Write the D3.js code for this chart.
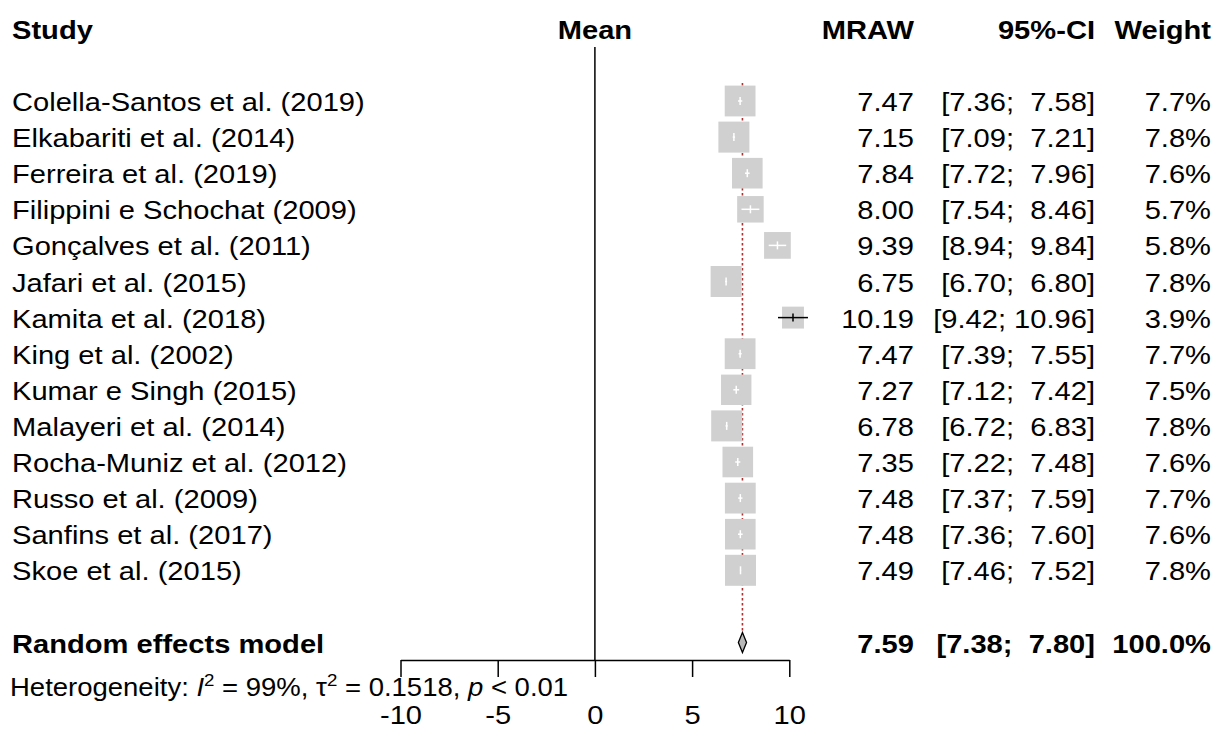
<!DOCTYPE html>
<meta charset="utf-8">
<script src="https://d3js.org/d3.v7.min.js"></script>
<style>
  body { margin: 0; background: #fff; }
  text { font-family: "Liberation Sans", Arial, sans-serif; white-space: pre; }
</style>
<body>
<div id="my_dataviz"></div>
<script>
  // study data
  var studies = ["Colella-Santos et al. (2019)", "Elkabariti et al. (2014)", "Ferreira et al. (2019)",
    "Filippini e Schochat (2009)", "Gonçalves et al. (2011)", "Jafari et al. (2015)", "Kamita et al. (2018)",
    "King et al. (2002)", "Kumar e Singh (2015)", "Malayeri et al. (2014)", "Rocha-Muniz et al. (2012)",
    "Russo et al. (2009)", "Sanfins et al. (2017)", "Skoe et al. (2015)"];
  var means = [7.47, 7.15, 7.84, 8.00, 9.39, 6.75, 10.19, 7.47, 7.27, 6.78, 7.35, 7.48, 7.48, 7.49];
  var lower = [7.36, 7.09, 7.72, 7.54, 8.94, 6.70, 9.42, 7.39, 7.12, 6.72, 7.22, 7.37, 7.36, 7.46];
  var upper = [7.58, 7.21, 7.96, 8.46, 9.84, 6.80, 10.96, 7.55, 7.42, 6.83, 7.48, 7.59, 7.60, 7.52];
  var weights = [7.7, 7.8, 7.6, 5.7, 5.8, 7.8, 3.9, 7.7, 7.5, 7.8, 7.6, 7.7, 7.6, 7.8];

  // random effects model
  var pooledMean = 7.59, pooledLower = 7.38, pooledUpper = 7.80, pooledWeight = 100.0;

  var xTicks = [-10, -5, 0, 5, 10];
  var headers = ["Study", "Mean", "MRAW", "95%-CI", "Weight"];

  var W = 1219, H = 729;
  var FS = 26, SX = 1.12;

  var svg = d3.select("#my_dataviz").append("svg")
    .attr("width", W).attr("height", H);

  var x = d3.scaleLinear().domain([-10, 10]).range([400.5, 789.3]);
  var row = d3.scaleLinear().domain([0, 1]).range([101, 137.1]);
  var side = d3.scaleSqrt().domain([0, 7.8]).range([0, 31]);

  var colMRAW = 914, colCI = 1095, colW = 1211, colStudy = 12;

  // helper for the horizontally stretched text
  function txt(px, py, str, anchor, bold, fs) {
    return svg.append("text")
      .attr("transform", "translate(" + px + "," + py + ") scale(" + SX + ",1)")
      .attr("text-anchor", anchor || "start")
      .style("font-size", (fs || FS) + "px")
      .style("font-weight", bold ? "bold" : "normal")
      .text(str);
  }
  function ciText(lo, up) {
    return "[" + lo.toFixed(2) + ";" + (up >= 10 ? " " : "  ") + up.toFixed(2) + "]";
  }

  // headers
  var hy = 39;
  txt(colStudy, hy, headers[0], "start", true);
  txt(x(0), hy, headers[1], "middle", true);
  txt(colMRAW, hy, headers[2], "end", true);
  txt(colCI, hy, headers[3], "end", true);
  txt(colW, hy, headers[4], "end", true);

  var pooledY = row(15);

  // zero line
  svg.append("line")
    .attr("x1", x(0)).attr("x2", x(0))
    .attr("y1", 47).attr("y2", 660)
    .attr("stroke", "#000").attr("stroke-width", 1.5);

  // dotted pooled line
  svg.append("line")
    .attr("x1", x(pooledMean)).attr("x2", x(pooledMean))
    .attr("y1", row(0) - 18).attr("y2", pooledY - 11)
    .attr("stroke", "#b03030").attr("stroke-width", 1.6)
    .attr("stroke-dasharray", "2.5,2.5");

  // squares
  studies.forEach(function (s, i) {
    var cy = row(i), cx = x(means[i]), sd = side(weights[i]);
    svg.append("rect")
      .attr("x", cx - sd / 2).attr("y", cy - sd / 2)
      .attr("width", sd).attr("height", sd)
      .attr("fill", "#d0d0d0");
    var inside = (x(upper[i]) - x(lower[i])) < sd;
    var col = inside ? "#fff" : "#000";
    svg.append("line")
      .attr("x1", x(lower[i])).attr("x2", x(upper[i]))
      .attr("y1", cy).attr("y2", cy)
      .attr("stroke", col).attr("stroke-width", 1.5);
    svg.append("line")
      .attr("x1", cx).attr("x2", cx)
      .attr("y1", cy - 4).attr("y2", cy + 4)
      .attr("stroke", col).attr("stroke-width", 1.5);

    var by = cy + 10;
    txt(colStudy, by, s);
    txt(colMRAW, by, means[i].toFixed(2), "end");
    txt(colCI, by, ciText(lower[i], upper[i]), "end");
    txt(colW, by, weights[i].toFixed(1) + "%", "end");
  });

  // diamond
  svg.append("path")
    .attr("d", "M" + x(pooledLower) + "," + pooledY +
      "L" + x(pooledMean) + "," + (pooledY - 10) +
      "L" + x(pooledUpper) + "," + pooledY +
      "L" + x(pooledMean) + "," + (pooledY + 10) + "Z")
    .attr("fill", "#b8b8b8").attr("stroke", "#000").attr("stroke-width", 1.3);

  var py = pooledY + 10;
  txt(colStudy, py, "Random effects model", "start", true);
  txt(colMRAW, py, pooledMean.toFixed(2), "end", true);
  txt(colCI, py, ciText(pooledLower, pooledUpper), "end", true);
  txt(colW, py, pooledWeight.toFixed(1) + "%", "end", true);

  // heterogeneity line
  var het = txt(10, 696, "", "start", false, 25);
  het.attr("transform", "translate(10,696) scale(1.1,1)");
  het.append("tspan").text("Heterogeneity: ");
  het.append("tspan").style("font-style", "italic").text("I");
  het.append("tspan").attr("dy", -10).style("font-size", "17px").text("2");
  het.append("tspan").attr("dy", 10).text(" = 99%, τ");
  het.append("tspan").attr("dy", -10).style("font-size", "17px").text("2");
  het.append("tspan").attr("dy", 10).text(" = 0.1518, ");
  het.append("tspan").style("font-style", "italic").text("p");
  het.append("tspan").text(" < 0.01");

  // x axis
  var axis = svg.append("g")
    .attr("transform", "translate(0,660)")
    .call(d3.axisBottom(x).tickValues(xTicks).tickSize(17).tickSizeOuter(0)
      .tickFormat(function (d) { return String(d); }));
  axis.select(".domain").attr("stroke", "#000").attr("stroke-width", 1.5);
  axis.selectAll(".tick line").attr("stroke", "#000").attr("stroke-width", 1.5);
  axis.selectAll(".tick text")
    .attr("y", 0).attr("dy", 0)
    .attr("transform", "translate(0,64) scale(" + SX + ",1)")
    .attr("fill", "#000")
    .style("font-size", "26px")
    .style("font-family", "'Liberation Sans', Arial, sans-serif");
</script>
</body>
